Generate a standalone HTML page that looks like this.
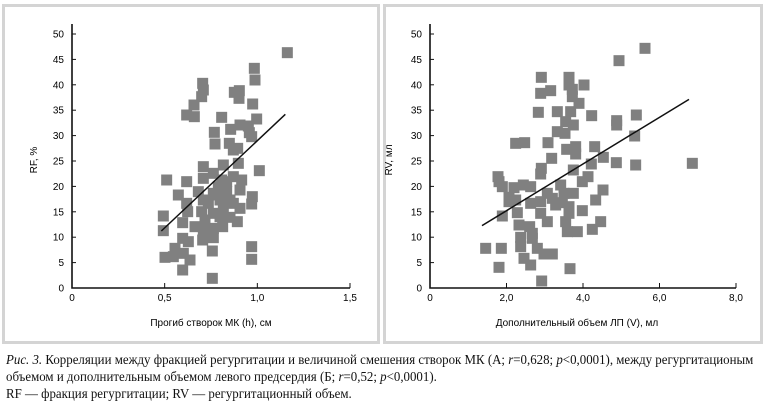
<!DOCTYPE html>
<html><head><meta charset="utf-8"><style>
body{margin:0;width:767px;height:414px;background:#fff;overflow:hidden;position:relative}
.cap{position:absolute;left:6px;font-family:"Liberation Serif",serif;font-size:13.5px;white-space:nowrap;transform-origin:0 0;transform:scaleX(0.955);color:#111}
</style></head><body>
<svg id="s" width="767" height="414" style="position:absolute;left:0;top:0" font-family="Liberation Sans, sans-serif" font-size="10">
<rect x="3.5" y="5.5" width="375" height="337" fill="none" stroke="#d4d4d4" stroke-width="3"/>
<rect x="384.5" y="5.5" width="377" height="337" fill="none" stroke="#d4d4d4" stroke-width="3"/>
</svg>
<div class="cap" style="top:352px"><i>Рис. 3.</i> Корреляции между фракцией регургитации и величиной смешения створок МК (А; <i>r</i>=0,628; <i>p</i>&lt;0,0001), между регургитационым</div>
<div class="cap" style="top:369px">объемом и дополнительным объемом левого предсердия (Б; <i>r</i>=0,52; <i>p</i>&lt;0,0001).</div>
<div class="cap" style="top:386px">RF — фракция регургитации; RV — регургитационный объем.</div>
<script>
const s=document.getElementById('s');const NS='http://www.w3.org/2000/svg';
function el(t,a,txt){const e=document.createElementNS(NS,t);for(const k in a)e.setAttribute(k,a[k]);if(txt)e.textContent=txt;s.appendChild(e);return e;}
const L=[[862,158],[763,205],[765,240],[718,272],[703,277],[717,295],[608,250],[610,270],[605,290],[582,315],[560,345],[583,350],[758,312],[770,357],[665,352],[643,397],[645,432],[692,388],[720,375],[745,378],[748,398],[755,410],[688,430],[700,450],[713,445],[715,490],[670,495],[778,512],[610,500],[500,540],[560,545],[610,535],[640,520],[665,540],[700,530],[725,540],[535,585],[595,575],[560,610],[563,635],[610,600],[640,580],[655,560],[680,575],[720,570],[757,590],[755,612],[625,610],[660,600],[690,600],[640,640],[605,635],[490,648],[548,668],[585,680],[610,690],[615,660],[660,650],[690,652],[712,665],[640,685],[668,680],[608,720],[640,713],[637,753],[490,692],[548,715],[565,725],[525,745],[495,772],[520,770],[550,760],[570,780],[548,810],[637,835],[755,740],[755,778],[700,610],[720,625],[680,545],[670,620],[650,585]];
const R=[[783,145],[705,182],[472,232],[555,232],[600,255],[555,255],[500,272],[470,280],[565,268],[565,290],[585,310],[463,337],[520,335],[560,335],[623,347],[698,362],[698,375],[757,345],[545,365],[568,375],[520,395],[543,400],[752,408],[492,428],[395,430],[422,428],[548,448],[575,440],[575,462],[632,440],[503,475],[658,472],[622,492],[697,488],[755,495],[925,490],[472,505],[470,522],[568,510],[342,530],[345,545],[355,560],[390,563],[418,555],[440,560],[395,600],[375,605],[355,648],[400,638],[440,610],[470,605],[490,580],[505,595],[515,615],[530,555],[540,580],[535,608],[555,620],[568,580],[595,545],[612,530],[635,600],[657,570],[555,640],[595,632],[470,640],[490,665],[545,665],[650,665],[405,675],[437,680],[445,700],[550,695],[580,695],[625,688],[410,712],[445,715],[410,740],[460,745],[480,762],[505,762],[305,745],[352,745],[420,775],[440,795],[345,802],[558,806],[473,843],[375,592]];
function chart(ox,pts,line,x0,x1,xt,xl,yl,ylx,xlx){
 const y0=288,y50=34;
 pts.forEach(p=>el('rect',{x:ox+p[0]/3-5.5,y:p[1]/3-5.5,width:11,height:11,fill:'#808080'}));
 el('line',{x1:ox+line[0]/3,y1:line[1]/3,x2:ox+line[2]/3,y2:line[3]/3,stroke:'#111','stroke-width':1.5});
 el('path',{d:`M${x0} ${y50-10}V${y0}H${x1}`,fill:'none',stroke:'#111','stroke-width':1.6});
 for(let i=0;i<=10;i++){const y=y0-(y0-y50)*i/10;el('line',{x1:x0,y1:y,x2:x0+4,y2:y,stroke:'#111'});el('text',{x:x0-8,y:y+3.5,'text-anchor':'end'},String(i*5));}
 xt.forEach((t,i)=>{const x=x0+(x1-x0)*i/(xt.length-1);el('line',{x1:x,y1:y0,x2:x,y2:y0-5,stroke:'#111'});el('text',{x:x,y:y0+13,'text-anchor':'middle'},t);});
 el('text',{x:xlx,y:326,'text-anchor':'middle'},xl);
 el('text',{x:ylx,y:160,'text-anchor':'middle',transform:`rotate(-90 ${ylx} 160)`},yl);
}
chart(0,L,[484,693,856,343],72,350,['0','0,5','1,0','1,5'],'Прогиб створок МК (h), см','RF, %',37,211);
chart(384,R,[294,677,915,298],430,736,['0','2,0','4,0','6,0','8,0'],'Дополнительный объем ЛП (V), мл','RV, мл',392,577);
</script>
</body></html>
